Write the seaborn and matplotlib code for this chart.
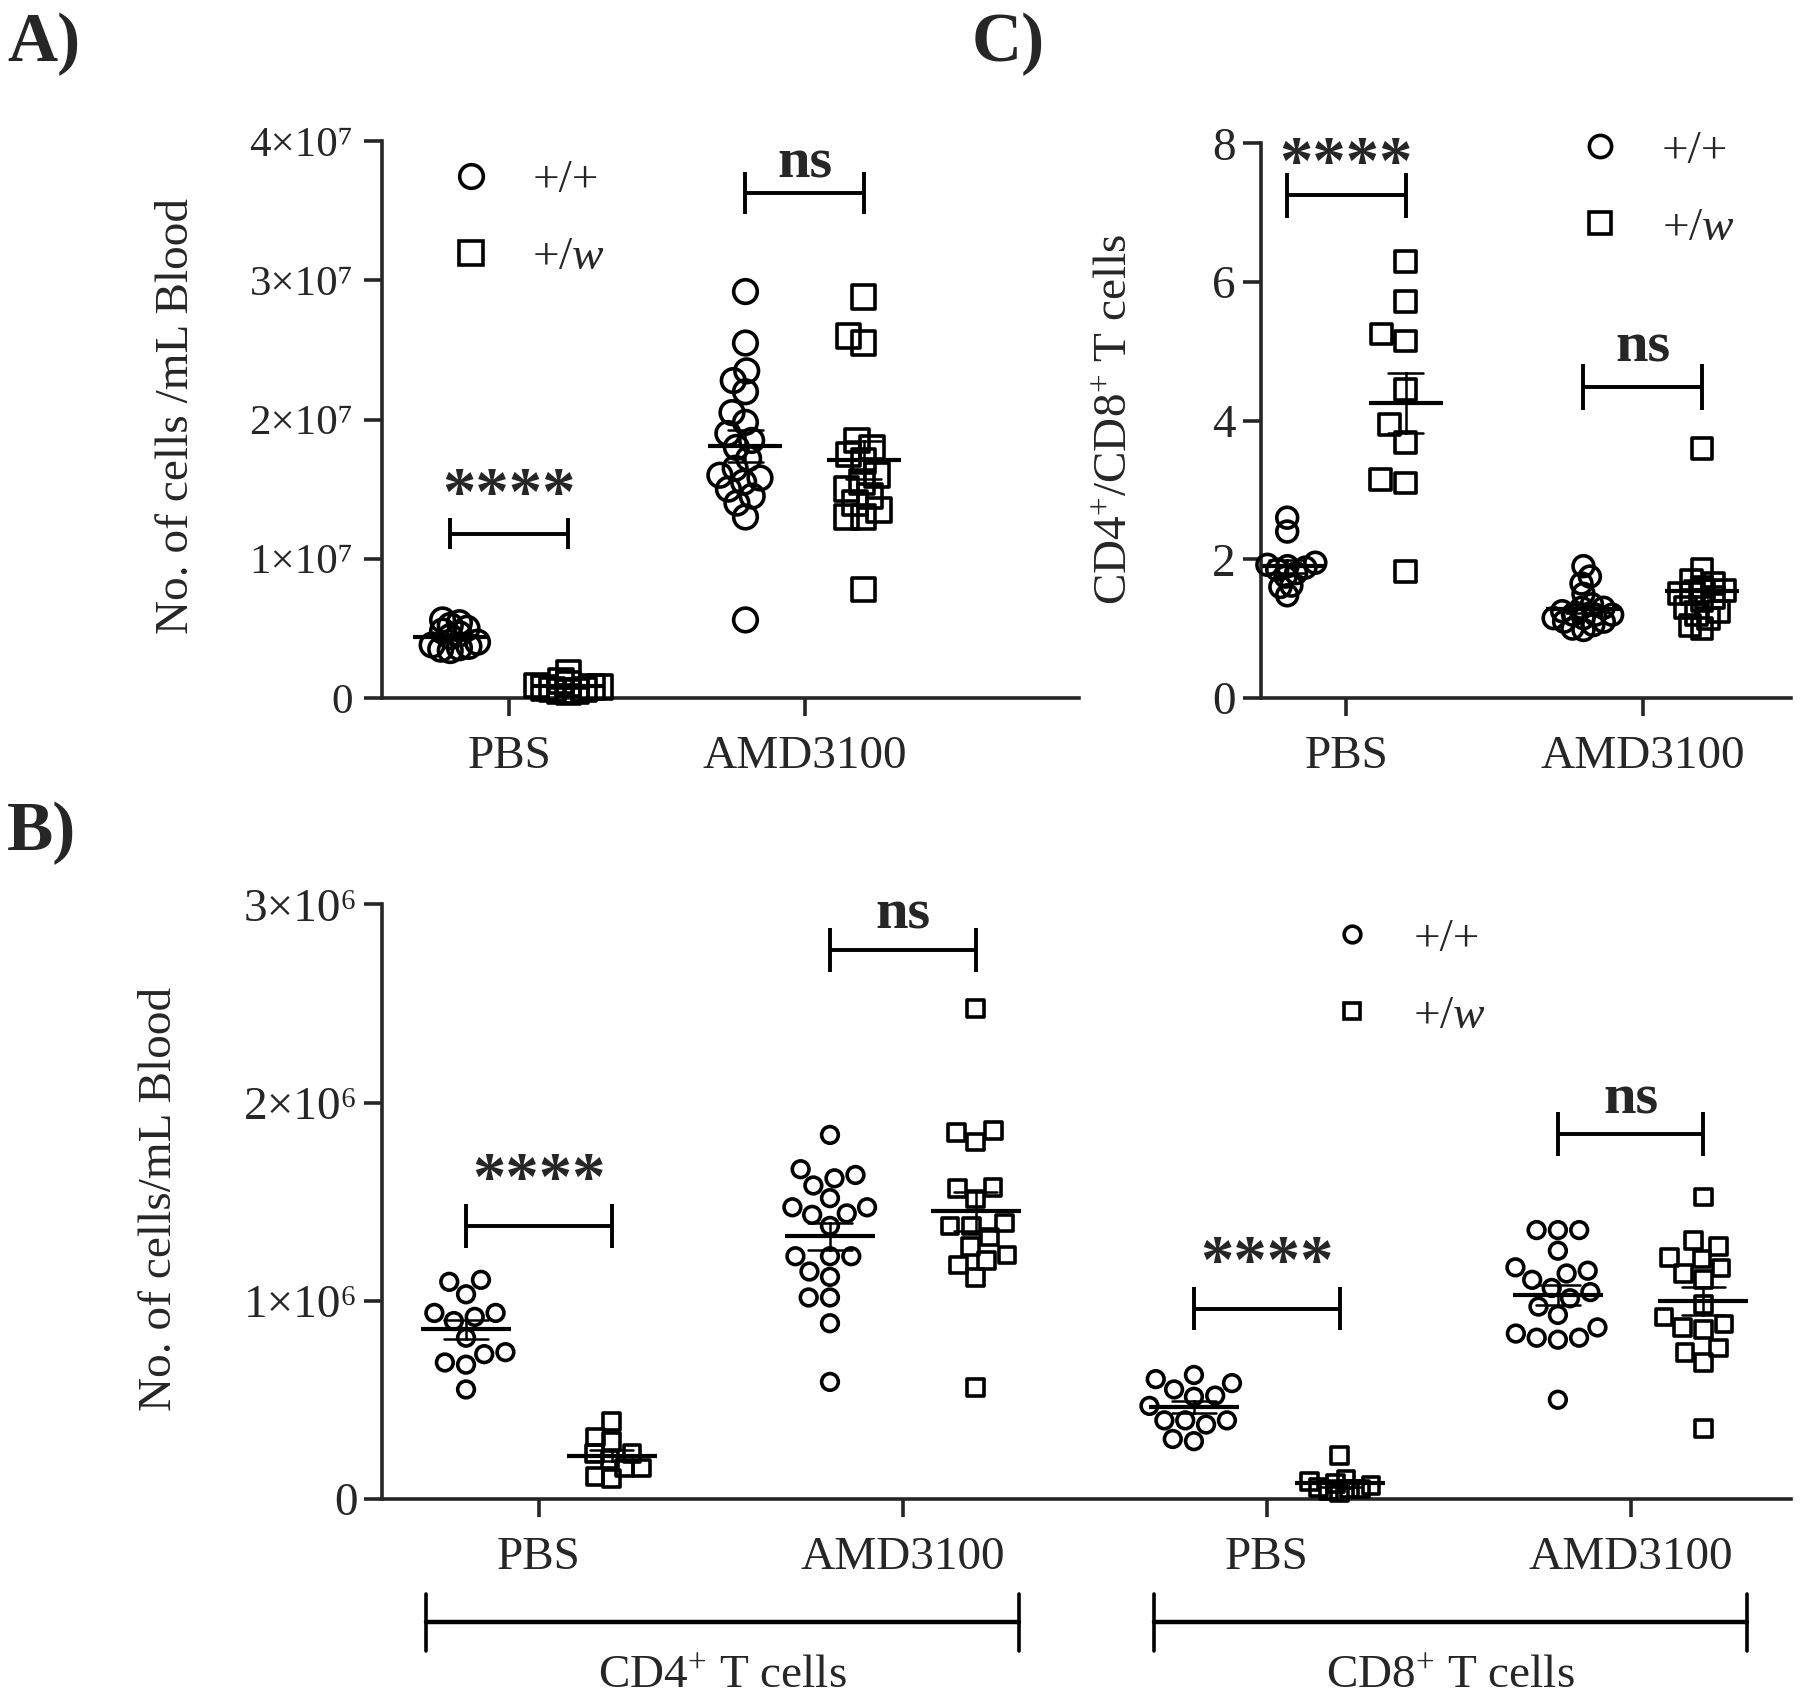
import itertools
import matplotlib
matplotlib.use("Agg")
import matplotlib.pyplot as plt
from matplotlib.lines import Line2D
from matplotlib.ticker import FuncFormatter
import numpy as np
import pandas as pd
import seaborn as sns

sns.set_style("ticks")
plt.rcParams["font.family"] = ["Liberation Serif", "DejaVu Serif"]
plt.rcParams["mathtext.fontset"] = "custom"
plt.rcParams["mathtext.rm"] = "Liberation Serif"
plt.rcParams["mathtext.it"] = "Liberation Serif:italic"
plt.rcParams["mathtext.bf"] = "Liberation Serif:bold"

# -------------------------------------------------------- #
# data

genotypes = ["+/+", "+/w"]
treatments = ["PBS", "AMD3100"]

# A) total cells / mL blood (x 1e6)
a_pbs_wt = [5.6, 5.4, 5.2, 5.0, 4.8, 4.6, 4.4, 4.0, 3.8, 3.6, 3.5, 3.4, 3.7]
a_pbs_w = [1.8, 1.2, 1.0, 0.9, 0.8, 0.7, 0.6, 0.5, 0.5, 0.4, 0.6, 0.8]
a_amd_wt = [29.2, 25.5, 23.5, 22.8, 22.0, 20.5, 19.8, 19.0, 18.5, 18.0,
            17.2, 16.5, 16.0, 15.8, 15.5, 15.0, 14.5, 14.0, 13.0, 5.6]
a_amd_w = [28.8, 26.0, 25.5, 18.5, 18.0, 17.5, 17.0, 16.0, 15.5, 15.0,
           14.5, 14.0, 13.5, 13.0, 13.0, 7.8]

# C) CD4+/CD8+ ratio
c_pbs_wt = [2.6, 2.4, 1.95, 1.92, 1.9, 1.88, 1.85, 1.8, 1.75, 1.62, 1.6, 1.48]
c_pbs_w = [6.3, 5.72, 5.25, 5.15, 4.45, 3.95, 3.68, 3.15, 3.1, 1.82]
c_amd_wt = [1.9, 1.75, 1.65, 1.5, 1.35, 1.3, 1.25, 1.2, 1.2, 1.15,
            1.1, 1.1, 1.05, 1.0, 0.98, 1.15, 1.2, 1.3]
c_amd_w = [3.6, 1.85, 1.7, 1.65, 1.6, 1.55, 1.5, 1.5, 1.45, 1.4,
           1.3, 1.25, 1.2, 1.15, 1.05, 1.0]

# B) CD4 / CD8 T cells / mL blood (x 1e6)
b_cd4_pbs_wt = [1.106, 1.096, 1.033, 0.939, 0.919, 0.898, 0.939, 0.814,
                0.741, 0.731, 0.689, 0.678, 0.553]
b_cd4_pbs_w = [0.39, 0.292, 0.313, 0.23, 0.23, 0.2, 0.157, 0.157, 0.115, 0.104]
b_cd4_amd_wt = [1.837, 1.618, 1.664, 1.635, 1.582, 1.518, 1.472, 1.472, 1.434, 1.441,
                1.378, 1.225, 1.225, 1.225, 1.148, 1.121, 1.017, 1.017, 0.887, 0.591]
b_cd4_amd_w = [2.474, 1.858, 1.802, 1.848, 1.566, 1.572, 1.514, 1.392, 1.322,
               1.378, 1.378, 1.273, 1.232, 1.205, 1.18, 1.117, 0.564]
b_cd8_pbs_wt = [0.626, 0.585, 0.605, 0.553, 0.522, 0.516, 0.47, 0.397, 0.376,
                0.397, 0.397, 0.303, 0.292]
b_cd8_pbs_w = [0.22, 0.1, 0.09, 0.08, 0.07, 0.06, 0.05, 0.05, 0.04, 0.03]
b_cd8_amd_wt = [1.357, 1.357, 1.357, 1.253, 1.138, 1.169, 1.152, 1.065, 1.106, 1.044,
                1.013, 0.971, 0.929, 0.866, 0.814, 0.835, 0.804, 0.814, 0.501]
b_cd8_amd_w = [1.524, 1.273, 1.305, 1.217, 1.211, 1.165, 1.138, 1.106, 0.981,
               0.919, 0.866, 0.856, 0.883, 0.741, 0.762, 0.689, 0.355]

b_groups = ["CD4 PBS", "CD4 AMD3100", "CD8 PBS", "CD8 AMD3100"]
b_ticklabels = ["PBS", "AMD3100", "PBS", "AMD3100"]


def make_df(groups, series, scale=1.0):
    rows = []
    for grp, (wt, w) in zip(groups, series):
        rows += [(grp, "+/+", v * scale) for v in wt]
        rows += [(grp, "+/w", v * scale) for v in w]
    return pd.DataFrame(rows, columns=["group", "genotype", "value"])


df_a = make_df(treatments, [(a_pbs_wt, a_pbs_w), (a_amd_wt, a_amd_w)], 1e6)
df_c = make_df(treatments, [(c_pbs_wt, c_pbs_w), (c_amd_wt, c_amd_w)])
df_b = make_df(b_groups, [(b_cd4_pbs_wt, b_cd4_pbs_w), (b_cd4_amd_wt, b_cd4_amd_w),
                          (b_cd8_pbs_wt, b_cd8_pbs_w), (b_cd8_amd_wt, b_cd8_amd_w)], 1e6)

# -------------------------------------------------------- #

FS = 34
LW = 2.6
swarms = []  # (collection, drawn marker size)
SUP = str.maketrans("0123456789", "⁰¹²³⁴⁵⁶⁷⁸⁹")


def sci(exp):
    def f(v, pos):
        if v == 0:
            return "0"
        return "%d×10%s" % (round(v / 10 ** exp), str(exp).translate(SUP))
    return FuncFormatter(f)


def scatter_panel(ax, df, order, size, spacing, mean_ms):
    # the swarm is laid out with `spacing` (pt) so dense groups overlap like
    # the original, then redrawn with the real marker size
    for (grp, g), sp in zip(itertools.product(order, genotypes), spacing):
        n = len(ax.collections)
        sns.swarmplot(data=df[(df.group == grp) & (df.genotype == g)], x="group", y="value",
                      hue="genotype", order=order, hue_order=genotypes, dodge=True,
                      marker="o" if g == "+/+" else "s", size=sp,
                      palette=["white", "white"], edgecolor="black", linewidth=LW,
                      legend=False, warn_thresh=1, ax=ax)
        for coll in list(ax.collections[n:]):
            if len(coll.get_offsets()) == 0:
                coll.remove()  # empty placeholders would be drawn at (0, 0) unclipped
                continue
            coll.set_facecolor("none")
            coll.set_clip_on(False)
            swarms.append((coll, size))
    sns.pointplot(data=df, x="group", y="value", hue="genotype", order=order,
                  hue_order=genotypes, dodge=0.4, errorbar="se", capsize=0.12,
                  palette=["black", "black"], marker="_", markersize=mean_ms,
                  markeredgewidth=3.0, linestyle="none", linewidth=1.8,
                  err_kws={"linewidth": 1.8}, legend=False, ax=ax)
    sns.despine(ax=ax)
    for s in ["left", "bottom"]:
        ax.spines[s].set_linewidth(LW)
    ax.tick_params(axis="both", labelsize=FS, width=LW, length=13, direction="out")
    ax.tick_params(axis="x", pad=14)
    ax.tick_params(axis="y", pad=5)
    ax.set_xlabel("")


def bracket(ax, x0, x1, y, h, text, ty, stars):
    ax.plot([x0, x1], [y, y], color="black", lw=2.8, solid_capstyle="butt")
    ax.plot([x0, x0], [y - h, y + h], color="black", lw=2.8, solid_capstyle="butt")
    ax.plot([x1, x1], [y - h, y + h], color="black", lw=2.8, solid_capstyle="butt")
    ax.text((x0 + x1) / 2, ty, text, ha="center", va="baseline",
            fontsize=48 if stars else 42, fontweight="bold")


def legend(ax, x, y, ms):
    handles = [Line2D([], [], marker=m, ls="none", color="black", mfc="none",
                      markersize=ms, markeredgewidth=LW) for m in ["o", "s"]]
    ax.legend(handles, ["+/+", r"+/$\mathit{w}$"], loc="upper left",
              bbox_to_anchor=(x, y), frameon=False, fontsize=FS, handlelength=0.8,
              handletextpad=0.9, labelspacing=0.72, borderpad=0, borderaxespad=0)


fig = plt.figure(figsize=(18, 17), dpi=100)
ax_a = fig.add_axes([0.2124, 0.5895, 0.3871, 0.3274])
ax_c = fig.add_axes([0.7003, 0.5895, 0.2946, 0.3261])
ax_b = fig.add_axes([0.2124, 0.1182, 0.7825, 0.3498])

# ---- A ----
scatter_panel(ax_a, df_a, treatments, 17, [4, 3, 9, 9], 53)
ax_a.set_xlim(-0.43, 1.93)
ax_a.set_ylim(0, 4e7)
ax_a.set_yticks([0, 1e7, 2e7, 3e7, 4e7])
ax_a.yaxis.set_major_formatter(sci(7))
ax_a.tick_params(axis="y", labelsize=31, pad=8)
ax_a.set_ylabel("No. of cells /mL Blood", fontsize=FS)
ax_a.yaxis.set_label_coords(-0.265, 0.507)
bracket(ax_a, -0.2, 0.2, 1.18e7, 0.11e7, "****", 1.33e7, True)
bracket(ax_a, 0.8, 1.2, 3.63e7, 0.15e7, "ns", 3.74e7, False)
legend(ax_a, 0.10, 0.968, 17)

# ---- C ----
scatter_panel(ax_c, df_c, treatments, 15, [5, 15, 5, 6], 53)
ax_c.set_xlim(-0.29, 1.50)
ax_c.set_ylim(0, 8)
ax_c.set_yticks([0, 2, 4, 6, 8])
ax_c.set_ylabel(r"CD4$^{+}$/CD8$^{+}$ T cells", fontsize=FS)
ax_c.yaxis.set_label_coords(-0.234, 0.503)
bracket(ax_c, -0.2, 0.2, 7.25, 0.33, "****", 7.45, True)
bracket(ax_c, 0.8, 1.2, 4.49, 0.33, "ns", 4.85, False)
legend(ax_c, 0.605, 1.025, 16)

# ---- B ----
scatter_panel(ax_b, df_b, b_groups, 12, [12, 9, 12, 12, 12, 5, 12, 12], 65)
ax_b.set_xlim(-0.43, 3.44)
ax_b.set_ylim(0, 3e6)
ax_b.set_yticks([0, 1e6, 2e6, 3e6])
ax_b.yaxis.set_major_formatter(sci(6))
ax_b.set_xticks(range(4))
ax_b.set_xticklabels(b_ticklabels)
ax_b.set_ylabel("No. of cells/mL Blood", fontsize=FS)
ax_b.yaxis.set_label_coords(-0.143, 0.504)
bracket(ax_b, -0.2, 0.2, 1.378e6, 0.11e6, "****", 1.52e6, True)
bracket(ax_b, 0.8, 1.2, 2.77e6, 0.11e6, "ns", 2.88e6, False)
bracket(ax_b, 1.8, 2.2, 0.961e6, 0.11e6, "****", 1.10e6, True)
bracket(ax_b, 2.8, 3.2, 1.841e6, 0.11e6, "ns", 1.946e6, False)
legend(ax_b, 0.675, 0.978, 12)

# cell-type group brackets under the x axis
trans = ax_b.get_xaxis_transform()
for x0, x1, lab in [(-0.31, 1.32, r"CD4$^{+}$ T cells"), (1.69, 3.32, r"CD8$^{+}$ T cells")]:
    ax_b.plot([x0, x1], [-0.207, -0.207], color="black", lw=3.2, transform=trans, clip_on=False)
    for xx in (x0, x1):
        ax_b.plot([xx, xx], [-0.16, -0.255], color="black", lw=LW, transform=trans, clip_on=False)
    ax_b.text((x0 + x1) / 2, -0.262, lab, transform=trans, ha="center", va="top", fontsize=FS)

# panel letters
for x, y, lab in [(0.004, 0.993, "A)"), (0.540, 0.993, "C)"), (0.004, 0.529, "B)")]:
    fig.text(x, y, lab, fontsize=50, fontweight="bold", va="top", ha="left")

# lay out the swarms once, then freeze them and draw at full marker size
fig.canvas.draw()
for coll, size in swarms:
    if "draw" in coll.__dict__:
        del coll.draw
    coll.set_sizes([size ** 2])

plt.savefig("out.png", dpi=100)
